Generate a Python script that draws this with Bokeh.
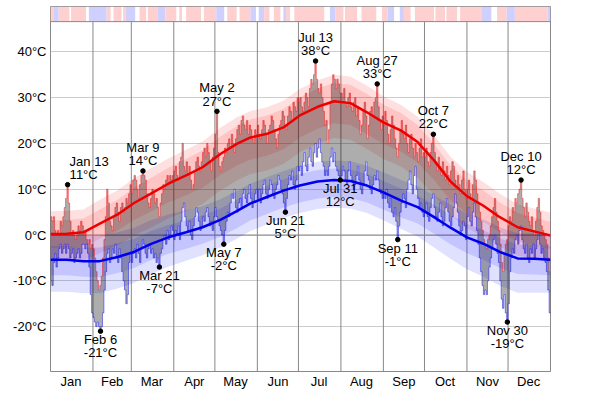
import numpy as np
from bokeh.plotting import figure
from bokeh.models import FixedTicker, Range1d, ColumnDataSource
from bokeh.core.properties import value
from bokeh.embed import file_html
from bokeh.resources import INLINE

# ---------------- data ----------------
month_names = ["Jan", "Feb", "Mar", "Apr", "May", "Jun", "Jul", "Aug", "Sep", "Oct", "Nov", "Dec"]
month_days = [31, 28, 31, 30, 31, 30, 31, 31, 30, 31, 30, 31]

# observed daily highs / lows (°C)
hi_jan = [4, 3, 4, 1, 0, 1, 0, 3, 2, 4, 6, 8, 11, 7, 3, 0, 1, 0, -1, 0, 2, 1, 3, 2, 0, 1, -1, -2, -1, -3, -2]
lo_jan = [-10, -11, -6, -4, -7, -5, -3, -2, -4, -3, -2, -4, -2, -3, -5, -4, -3, -6, -5, -4, -3, -5, -4, -2, -2, -3, -2, -4, -7, -13, -17]
hi_feb = [-3, -5, -8, -10, -12, -11, -9, -5, -1, 4, 10, 7, 3, 2, 1, 4, 6, 7, 5, 3, 6, 7, 5, 6, 8, 7, 9, 11]
lo_feb = [-18, -19, -20, -19, -20, -21, -20, -17, -12, -8, -4, -3, -6, -5, -3, -4, -2, -5, -6, -3, -5, -8, -10, -12, -15, -13, -6, -4]
hi_mar = [9, 12, 13, 12, 10, 8, 11, 13, 14, 13, 12, 9, 7, 6, 8, 10, 9, 7, 8, 6, 4, 7, 9, 11, 10, 12, 13, 11, 13, 12, 13]
lo_mar = [-6, -4, -3, -5, -2, -4, -6, -3, -1, -2, -4, -5, -3, -2, -4, -3, -5, -4, -6, -5, -7, -4, -3, -1, 0, -2, 1, -1, 0, 2, 1]
hi_apr = [14, 15, 13, 12, 16, 17, 20, 15, 14, 16, 13, 15, 12, 10, 11, 14, 16, 17, 15, 14, 16, 18, 19, 17, 20, 18, 16, 14, 17, 19]
lo_apr = [-1, 1, 0, 2, -1, 3, 6, 7, 4, 2, 1, 3, 0, -1, 2, 4, 6, 5, 3, 1, 2, 4, 3, 5, 6, 4, 2, 3, 1, 4]
hi_may = [22, 27, 18, 15, 14, 16, 17, 19, 18, 20, 21, 19, 22, 20, 18, 21, 23, 24, 22, 25, 26, 24, 23, 25, 22, 24, 23, 21, 20, 23, 22]
lo_may = [6, 4, 3, 2, 1, 0, -2, 1, 3, 5, 4, 7, 9, 8, 10, 6, 5, 7, 8, 6, 9, 10, 8, 7, 9, 11, 8, 6, 7, 9, 10]
hi_jun = [24, 22, 21, 23, 25, 24, 22, 20, 23, 24, 26, 25, 23, 21, 19, 22, 24, 25, 27, 26, 24, 23, 26, 28, 27, 25, 29, 28, 27, 30]
lo_jun = [8, 10, 7, 9, 11, 12, 9, 8, 10, 12, 11, 9, 8, 10, 11, 13, 12, 10, 9, 7, 5, 8, 11, 13, 12, 14, 11, 10, 12, 15]
hi_jul = [29, 30, 28, 27, 29, 31, 30, 28, 32, 34, 33, 35, 38, 34, 32, 31, 33, 30, 27, 24, 25, 20, 23, 29, 33, 35, 34, 32, 34, 33, 31]
lo_jul = [14, 15, 13, 16, 18, 15, 14, 17, 19, 16, 15, 18, 20, 17, 19, 21, 18, 16, 15, 13, 14, 13, 15, 17, 19, 16, 18, 15, 14, 13, 12]
hi_aug = [31, 30, 32, 29, 28, 30, 31, 28, 27, 29, 30, 26, 28, 25, 22, 24, 27, 29, 26, 21, 24, 27, 28, 26, 29, 30, 33, 28, 25, 23, 26]
lo_aug = [13, 15, 14, 12, 11, 14, 16, 13, 12, 10, 11, 13, 15, 12, 10, 9, 11, 14, 16, 13, 12, 10, 9, 11, 13, 12, 14, 12, 10, 9, 8]
hi_sep = [24, 27, 25, 22, 20, 23, 26, 24, 21, 19, 17, 20, 23, 25, 22, 21, 24, 20, 18, 21, 22, 19, 17, 20, 18, 16, 19, 21, 17, 18]
lo_sep = [9, 8, 10, 7, 6, 8, 5, 4, 6, 3, -1, 2, 5, 7, 9, 8, 6, 10, 12, 14, 11, 9, 13, 15, 10, 8, 6, 7, 5, 4]
hi_oct = [17, 19, 16, 15, 18, 20, 22, 18, 16, 14, 17, 15, 13, 16, 14, 12, 15, 13, 11, 14, 16, 15, 12, 10, 13, 11, 9, 12, 14, 10, 8]
lo_oct = [5, 7, 4, 3, 6, 8, 9, 6, 4, 3, 5, 7, 4, 2, 3, 6, 8, 5, 3, 2, 4, 6, 9, 7, 5, 2, 0, 1, 3, 2, -1]
hi_nov = [10, 12, 9, 8, 11, 14, 12, 9, 7, 5, 3, 1, -1, -2, -3, -1, 0, 2, 4, 6, 8, 5, 3, 1, -2, -6, -8, -4, -2, -1]
lo_nov = [4, 6, 3, 2, 5, 7, 4, 1, -2, -5, -8, -11, -13, -12, -13, -10, -7, -5, -3, -1, 0, -2, -4, -6, -10, -14, -16, -13, -17, -19]
hi_dec = [2, 4, 3, 6, 5, 8, 7, 9, 10, 12, 8, 6, 4, 7, 5, 3, 2, 4, 1, 0, 3, 6, 8, 5, 2, 1, 0, -1, -2, -5, -8]
lo_dec = [-15, -8, -5, -3, -4, -1, 0, -2, 1, 2, -1, -3, -4, -2, -5, -6, -3, -4, -2, -5, -3, -1, 0, -2, -4, -3, -5, -6, -8, -12, -17]

# climatology (normal high/low and percentile bands), read at these days of year
norm_days = [0, 12, 24, 36, 49, 61, 73, 86, 99, 111, 124, 136, 146, 158, 170, 182,
             195, 207, 219, 231, 243, 256, 268, 280, 292, 304, 316, 328, 341, 353, 365]
norm_hi = [0.2, 0.3, 0.6, 2.5, 4.5, 7.0, 9.0, 11.2, 13.0, 14.8, 17.7, 19.9, 21.3, 22.1, 23.5, 26.1,
           28.0, 29.2, 28.8, 26.8, 24.6, 22.8, 20.3, 16.3, 11.7, 8.5, 6.4, 3.9, 1.7, 0.8, -0.1]
hi_p90 = [5.2, 5.3, 5.6, 7.7, 9.8, 12.4, 14.5, 16.7, 18.6, 20.4, 23.4, 25.7, 27.1, 27.9, 29.3, 31.9,
          33.8, 35.0, 34.6, 32.6, 30.3, 28.4, 25.8, 21.8, 17.1, 13.8, 11.6, 9.0, 6.7, 5.8, 4.9]
hi_p75 = [3.2, 3.3, 3.6, 5.6, 7.7, 10.3, 12.4, 14.7, 16.6, 18.5, 21.5, 23.8, 25.3, 26.1, 27.5, 30.1,
          32.0, 33.2, 32.8, 30.8, 28.5, 26.6, 24.0, 19.9, 15.2, 11.9, 9.7, 7.1, 4.8, 3.8, 2.9]
hi_p25 = [-2.8, -2.7, -2.5, -0.8, 1.0, 3.3, 5.1, 7.1, 8.7, 10.3, 13.1, 15.2, 16.5, 17.3, 18.7, 21.3,
          23.2, 24.4, 24.0, 22.0, 19.9, 18.2, 15.8, 12.0, 7.6, 4.7, 2.9, 0.6, -1.4, -2.2, -3.1]
hi_p10 = [-5.8, -5.7, -5.6, -4.0, -2.3, -0.1, 1.6, 3.6, 5.2, 6.8, 9.7, 11.9, 13.3, 14.1, 15.5, 18.1,
          20.0, 21.2, 20.8, 18.8, 16.6, 14.9, 12.5, 8.7, 4.4, 1.5, -0.3, -2.5, -4.5, -5.2, -6.1]
norm_lo = [-5.4, -5.4, -5.7, -5.7, -4.8, -3.7, -2.0, -0.5, 0.6, 1.7, 3.3, 5.2, 6.9, 8.3, 9.7, 10.8,
           11.7, 12.0, 11.8, 10.8, 9.3, 7.5, 6.1, 3.9, 1.6, -0.5, -1.9, -3.7, -5.1, -5.2, -5.4]
lo_p90 = [0.1, 0.1, -0.2, -0.2, 0.6, 1.6, 3.2, 4.5, 5.4, 6.3, 7.8, 9.6, 11.2, 12.6, 14.0, 15.1,
          16.0, 16.3, 16.1, 15.1, 13.7, 12.0, 10.7, 8.7, 6.6, 4.7, 3.4, 1.7, 0.4, 0.3, 0.1]
lo_p75 = [-2.4, -2.4, -2.7, -2.7, -1.8, -0.8, 0.8, 2.2, 3.2, 4.3, 5.8, 7.7, 9.4, 10.8, 12.2, 13.3,
          14.2, 14.5, 14.3, 13.3, 11.8, 10.1, 8.7, 6.6, 4.4, 2.4, 1.1, -0.7, -2.1, -2.2, -2.4]
lo_p25 = [-8.8, -8.8, -9.1, -9.2, -8.3, -7.2, -5.5, -4.1, -3.0, -1.9, -0.4, 1.5, 3.2, 4.6, 6.0, 7.1,
          8.0, 8.3, 8.1, 7.1, 5.6, 3.8, 2.5, 0.3, -2.0, -4.0, -5.4, -7.2, -8.5, -8.6, -8.8]
lo_p10 = [-12.4, -12.4, -12.7, -12.7, -11.7, -10.5, -8.6, -6.9, -5.6, -4.4, -2.7, -0.8, 0.9, 2.3, 3.7, 4.8,
          5.7, 6.0, 5.8, 4.8, 3.2, 1.3, -0.3, -2.7, -5.2, -7.5, -9.1, -11.1, -12.6, -12.6, -12.6]

# top strip: daily departure from normal (r = warmer, b = colder, w = near normal), run lengths in days
strip_codes = ["r", "b", "r", "w", "r", "w", "b", "r", "w", "r", "w", "r", "b", "w", "r", "w", "r", "b",
               "r", "w", "r", "w", "r", "w", "r", "b", "w", "r", "w", "r", "b", "w", "b", "r", "w", "r",
               "w", "b", "r", "w", "r", "w", "b", "r", "w", "r", "w", "r", "w", "r", "b", "w", "b", "r",
               "w", "r", "w", "r", "w", "r", "w", "r", "b", "w", "r", "b", "r", "b"]
strip_lengths = [2, 4, 8, 1, 11, 2, 13, 3, 2, 6, 1, 2, 7, 3, 5, 1, 7, 6,
                 8, 2, 2, 3, 11, 2, 9, 6, 2, 7, 2, 8, 4, 2, 4, 4, 3, 5,
                 2, 2, 3, 3, 22, 4, 4, 6, 1, 9, 3, 11, 4, 4, 5, 4, 3, 5,
                 3, 14, 1, 7, 1, 8, 2, 16, 7, 4, 7, 6, 24, 2]

# annotated monthly extremes
ann_month = ["Jan", "Feb", "Mar", "Mar", "May", "May", "Jun", "Jul", "Jul", "Aug", "Sep", "Oct", "Nov", "Dec"]
ann_daynum = [13, 6, 9, 21, 2, 7, 21, 13, 31, 27, 11, 7, 30, 10]
ann_kind = ["max", "min", "max", "min", "max", "min", "min", "max", "min", "max", "min", "max", "min", "max"]

y_ticks = [-20, -10, 0, 10, 20, 30, 40]

# ---------------- layout / style ----------------
YMIN, PLOT_TOP, YMAX = -29.8, 46.6, 49.9
FONT = "Liberation Sans"
GRID = "#cccccc"
FRAME = "#888888"

highs = np.array(hi_jan + hi_feb + hi_mar + hi_apr + hi_may + hi_jun + hi_jul + hi_aug + hi_sep + hi_oct + hi_nov + hi_dec, dtype=float)
lows = np.array(lo_jan + lo_feb + lo_mar + lo_apr + lo_may + lo_jun + lo_jul + lo_aug + lo_sep + lo_oct + lo_nov + lo_dec, dtype=float)
ndays = len(highs)
month_start = np.concatenate([[0], np.cumsum(month_days)[:-1]]).astype(int)
month_mid = (month_start + np.array(month_days) // 2).astype(int)

p = figure(width=600, height=391, x_range=Range1d(0, ndays), y_range=Range1d(YMIN, YMAX),
           output_backend="svg", toolbar_location=None,
           min_border_left=50, min_border_right=50, min_border_top=6, min_border_bottom=0)
p.background_fill_color = "white"
p.border_fill_color = "white"
p.outline_line_color = FRAME
p.outline_line_width = 1

# grid
p.xgrid.visible = False
p.ygrid.ticker = FixedTicker(ticks=y_ticks)
p.ygrid.grid_line_color = GRID
p.segment(x0=0, y0=0, x1=ndays, y1=0, line_color=FRAME, line_width=1)
p.segment(x0=month_start[1:], y0=YMIN, x1=month_start[1:], y1=PLOT_TOP, line_color=FRAME, line_width=1)

# percentile bands
p.varea(x=norm_days, y1=hi_p10, y2=hi_p90, fill_color="#ff0000", fill_alpha=0.12)
p.varea(x=norm_days, y1=hi_p25, y2=hi_p75, fill_color="#ff0000", fill_alpha=0.12)
p.varea(x=norm_days, y1=lo_p10, y2=lo_p90, fill_color="#0000ff", fill_alpha=0.12)
p.varea(x=norm_days, y1=lo_p25, y2=lo_p75, fill_color="#0000ff", fill_alpha=0.12)

# daily ranges
xs = np.arange(ndays + 1)
hi_ext = np.append(highs, highs[-1])
lo_ext = np.append(lows, lows[-1])
p.varea_step(x=xs, y1=lo_ext, y2=hi_ext, step_mode="after", fill_color="#000000", fill_alpha=0.32)
p.step(x=xs, y=hi_ext, mode="after", line_color="#ff0000", line_alpha=0.45, line_width=1)
p.step(x=xs, y=lo_ext, mode="after", line_color="#0000ff", line_alpha=0.45, line_width=1)

# normals
p.line(x=norm_days, y=norm_hi, line_color="#ee0000", line_width=2.5)
p.line(x=norm_days, y=norm_lo, line_color="#0000ee", line_width=2.5)

# top strip
strip_color_map = {"r": "#ffd0d0", "b": "#d0d0ff", "w": "#ffffff"}
s_right = np.cumsum(strip_lengths)
s_left = s_right - np.array(strip_lengths)
p.quad(left=s_left, right=s_right, bottom=PLOT_TOP, top=YMAX,
       fill_color=[strip_color_map[c] for c in strip_codes], line_color=None)
p.segment(x0=0, y0=PLOT_TOP, x1=ndays, y1=PLOT_TOP, line_color=FRAME, line_width=1)

# annotations
ann_idx = [int(month_start[month_names.index(m)]) + d - 1 for m, d in zip(ann_month, ann_daynum)]
ann_val = [highs[i] if k == "max" else lows[i] for i, k in zip(ann_idx, ann_kind)]
ann_src = ColumnDataSource(dict(
    x=[i + 0.5 for i in ann_idx],
    y=ann_val,
    date=[f"{m} {d}" for m, d in zip(ann_month, ann_daynum)],
    temp=[f"{int(v)}°C" for v in ann_val],
    date_off=[-23.5 if k == "max" else 8.7 for k in ann_kind],
    temp_off=[-10.3 if k == "max" else 21.5 for k in ann_kind],
    align=["left" if (m, d) == ("Jan", 13) else "center" for m, d in zip(ann_month, ann_daynum)],
    xoff=[2 if (m, d) == ("Jan", 13) else 0 for m, d in zip(ann_month, ann_daynum)],
))
p.scatter(x="x", y="y", size=4.5, fill_color="black", line_color="black", source=ann_src)
for col, off in (("date", "date_off"), ("temp", "temp_off")):
    p.text(x="x", y="y", text=col, x_offset="xoff", y_offset=off, text_align="align",
           text_baseline="middle", text_font=value(FONT), text_font_size=value("13px"),
           text_color="black", source=ann_src)

# axes
p.xaxis.ticker = FixedTicker(ticks=[int(v) for v in month_mid])
p.xaxis.major_label_overrides = {int(v): n for v, n in zip(month_mid, month_names)}
p.yaxis.ticker = FixedTicker(ticks=y_ticks)
p.yaxis.major_label_overrides = {t: f"{t}°C" for t in y_ticks}
for ax in (p.xaxis[0], p.yaxis[0]):
    ax.axis_line_color = None
    ax.major_tick_line_color = None
    ax.minor_tick_line_color = None
    ax.major_tick_out = 0
    ax.major_tick_in = 0
    ax.minor_tick_out = 0
    ax.major_label_text_font = FONT
    ax.major_label_text_font_size = "13px"
    ax.major_label_text_color = "black"
p.xaxis.major_label_standoff = 2
p.yaxis.major_label_standoff = 4

open("out.html", "w").write(file_html(p, INLINE))
